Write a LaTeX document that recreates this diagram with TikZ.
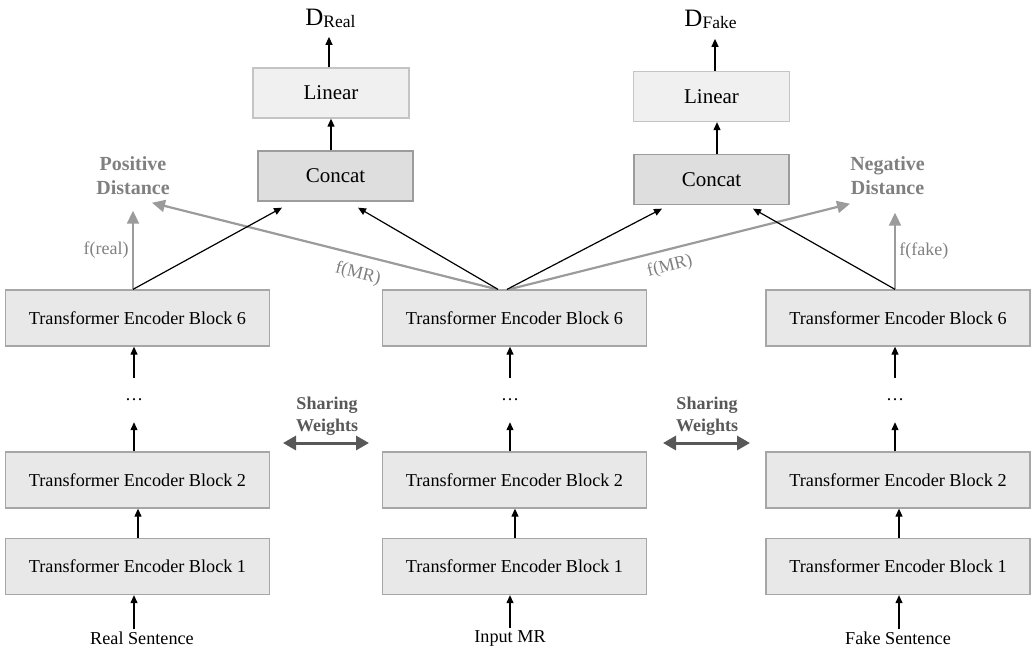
\documentclass[tikz,border=0pt]{standalone}
\usepackage{fontspec}
\setmainfont{Liberation Serif}
\usepackage{tikz}
\usetikzlibrary{arrows.meta,positioning,calc}

\definecolor{blockfill}{HTML}{E8E8E8}
\definecolor{blockline}{HTML}{A6A6A6}
\definecolor{linfill}{HTML}{F0F0F0}
\definecolor{linline}{HTML}{C4C4C4}
\definecolor{catfill}{HTML}{DEDEDE}
\definecolor{catline}{HTML}{9C9C9C}
\definecolor{garrcol}{HTML}{9B9B9B}
\definecolor{gtextcol}{HTML}{808080}
\definecolor{sharecol}{HTML}{585858}

\begin{document}
\begin{tikzpicture}[x=1pt, y=-1pt]
  \tikzstyle{block} = [draw=blockline, fill=blockfill, line width=1.3pt, minimum width=264pt, minimum height=56pt, inner sep=0pt, font=\fontsize{18.2}{20}\selectfont]
  \tikzstyle{linbox} = [block, draw=linline, fill=linfill, minimum width=156pt, minimum height=50pt, font=\fontsize{21}{24}\selectfont]
  \tikzstyle{catbox} = [linbox, draw=catline, fill=catfill, minimum width=155pt]
  \tikzstyle{plain} = [inner sep=2pt, font=\fontsize{18.2}{20}\selectfont]
  \tikzstyle{dots} = [inner sep=0pt, minimum height=44pt, font=\fontsize{18}{20}\selectfont]
  \tikzstyle{dist} = [text=gtextcol, inner sep=0pt, align=center, font=\bfseries\fontsize{20}{24}\selectfont]
  \tikzstyle{share} = [text=sharecol, inner sep=0pt, align=center, font=\bfseries\fontsize{18}{22}\selectfont]
  \tikzstyle{flab} = [text=gtextcol, font=\fontsize{18}{20}\selectfont]
  \tikzstyle{arr} = [-{Triangle[length=8pt,width=7pt]}, line width=1.2pt, black]
  \tikzstyle{garr} = [-{Triangle[length=13pt,width=12pt]}, line width=2.2pt, garrcol]
  \tikzstyle{sarr} = [{Triangle[length=13pt,width=14pt]}-{Triangle[length=13pt,width=14pt]}, line width=3pt, sharecol]

  \useasboundingbox (0,0) rectangle (1031,654);

  \def\L{137.5}
  \def\M{514.5}
  \def\R{898}

  % encoder blocks, left
  \node[block] (b1L) at (\L, 566.5) {Transformer Encoder Block 1};
  \node[block] (b2L) at (\L, 480)   {Transformer Encoder Block 2};
  \node[block] (b6L) at (\L, 318)   {Transformer Encoder Block 6};

  % encoder blocks, middle
  \node[block] (b1M) at (\M, 566.5) {Transformer Encoder Block 1};
  \node[block] (b2M) at (\M, 480)   {Transformer Encoder Block 2};
  \node[block] (b6M) at (\M, 318)   {Transformer Encoder Block 6};

  % encoder blocks, right
  \node[block] (b1R) at (\R, 566.5) {Transformer Encoder Block 1};
  \node[block] (b2R) at (\R, 480)   {Transformer Encoder Block 2};
  \node[block] (b6R) at (\R, 318)   {Transformer Encoder Block 6};

  % inputs
  \node[plain] (sentL) at (142, 638) {Real Sentence};
  \node[plain] (sentM) at (510, 638) {Input MR};
  \node[plain] (sentR) at (898, 638) {Fake Sentence};

  % dots
  \node[dots] (dotL) at (134, 400) {\dots};
  \node[dots] (dotM) at (510, 400) {\dots};
  \node[dots] (dotR) at (895, 400) {\dots};

  % heads
  \node[catbox] (conL) at (335.5, 176)   {Concat};
  \node[linbox] (linL) at (331, 93)      {Linear};
  \node[catbox] (conR) at (711.5, 179.5) {Concat};
  \node[linbox] (linR) at (711.5, 96.5)  {Linear};
  \node[inner sep=0pt, anchor=base] (dR) at (330.5, 25)
    {{\fontsize{25}{28}\selectfont D}\raisebox{-2.5pt}{\fontsize{17.5}{20}\selectfont Real}};
  \node[inner sep=0pt, anchor=base] (dF) at (710.5, 26)
    {{\fontsize{25}{28}\selectfont D}\raisebox{-2.5pt}{\fontsize{17.5}{20}\selectfont Fake}};

  % distances
  \node[dist] (posD) at (133, 175.5) {Positive\\Distance};
  \node[dist] (negD) at (887.5, 175.5) {Negative\\Distance};

  % sharing weights
  \node[share] (swL) at (327, 416) {Sharing\\Weights};
  \node[share] (swR) at (707, 416) {Sharing\\Weights};
  \coordinate (swL1) at (283, 443);
  \coordinate (swL2) at (369, 443);
  \coordinate (swR1) at (663, 443);
  \coordinate (swR2) at (750, 443);
  \draw[sarr] (swL1) -- (swL2);
  \draw[sarr] (swR1) -- (swR2);

  % column arrows
  \draw[arr] ([xshift=-8pt]sentL.north) -- ([xshift=-3.5pt]b1L.south);
  \draw[arr] (sentM.north) -- ([xshift=-4.5pt]b1M.south);
  \draw[arr] ([xshift=1pt]sentR.north) -- ([xshift=1pt]b1R.south);
  \draw[arr] ([xshift=0.5pt]b1L.north) -- ([xshift=0.5pt]b2L.south);
  \draw[arr] ([xshift=0.5pt]b1M.north) -- ([xshift=0.5pt]b2M.south);
  \draw[arr] ([xshift=1pt]b1R.north) -- ([xshift=1pt]b2R.south);
  \draw[arr] (b2L.north -| dotL) -- (dotL.south);
  \draw[arr] (b2M.north -| dotM) -- (dotM.south);
  \draw[arr] (b2R.north -| dotR) -- (dotR.south);
  \draw[arr] (dotL.north) -- (b6L.south -| dotL);
  \draw[arr] (dotM.north) -- (b6M.south -| dotM);
  \draw[arr] (dotR.north) -- (b6R.south -| dotR);

  % gray distance arrows
  \draw[garr] ([xshift=-4.5pt]b6L.north) -- node[flab, left] {f(real)} ([yshift=-16pt]posD.south);
  \draw[garr] ([xshift=-17.5pt]b6M.north) -- node[flab, below=6pt, sloped, pos=0.39] {f(MR)} ([xshift=19pt,yshift=-8pt]posD.south);
  \draw[garr] ([xshift=-5.5pt]b6M.north) -- node[flab, below=4pt, sloped, pos=0.46] {f(MR)} ([xshift=-37.5pt,yshift=-9pt]negD.south);
  \draw[garr] ([xshift=-3pt]b6R.north) -- node[flab, right] {f(fake)} ([xshift=7.5pt,yshift=-18pt]negD.south);

  % black arrows into concat
  \draw[arr] ([xshift=-4.5pt]b6L.north) -- ([xshift=-53.5pt,yshift=-6pt]conL.south);
  \draw[arr] ([xshift=-16.5pt]b6M.north) -- ([xshift=22.5pt,yshift=-6pt]conL.south);
  \draw[arr] ([xshift=-7.5pt]b6M.north) -- ([xshift=-49.5pt,yshift=-3.5pt]conR.south);
  \draw[arr] ([xshift=-3pt]b6R.north) -- ([xshift=41.5pt,yshift=-3.5pt]conR.south);

  % heads
  \draw[arr] ([xshift=-4.5pt]conL.north) -- (linL.south);
  \draw[arr] ([xshift=-2pt]linL.north) -- ([xshift=-1.5pt,yshift=-9pt]dR.south);
  \draw[arr] ([xshift=5.5pt]conR.north) -- ([xshift=5.5pt]linR.south);
  \draw[arr] ([xshift=3.5pt]linR.north) -- ([xshift=4.5pt,yshift=-10pt]dF.south);

\end{tikzpicture}
\end{document}
